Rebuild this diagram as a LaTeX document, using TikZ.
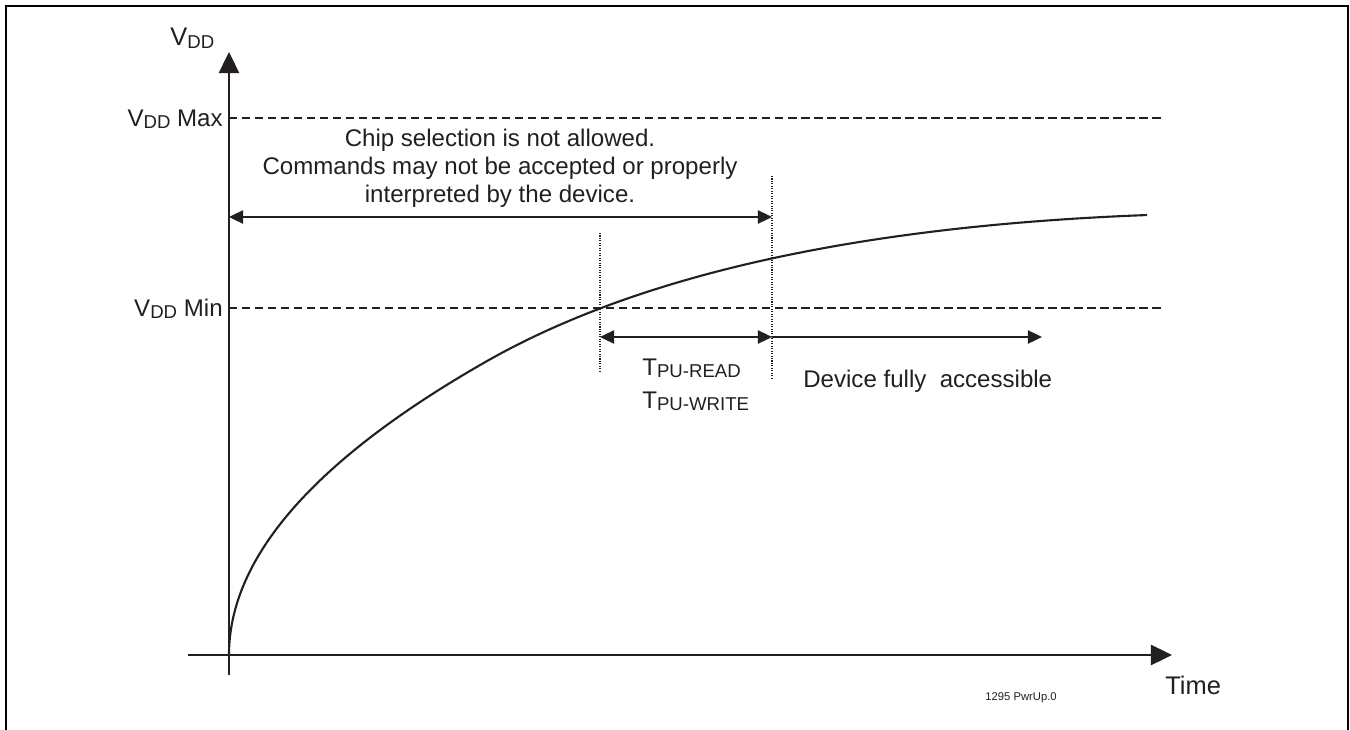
\documentclass[tikz,border=0pt]{standalone}
\usepackage{fontspec}
\setmainfont{Liberation Sans}
\usepackage{tikz}
\usetikzlibrary{arrows.meta, positioning}

\definecolor{ink}{HTML}{231F20}
\newcommand{\lowtxt}[1]{\raisebox{-1.6pt}{\fontsize{10.6}{12}\selectfont #1}}

\begin{document}
\begin{tikzpicture}[x=0.02cm, y=-0.02cm,
		axis/.style = {draw=ink, line width=1.1pt, -{Triangle[length=12pt, width=11.5pt]}},
		span/.style = {draw=ink, line width=1.1pt, {Triangle[length=8pt, width=7.5pt]}-{Triangle[length=8pt, width=7.5pt]}},
		onespan/.style = {draw=ink, line width=1.1pt, -{Triangle[length=8pt, width=7.5pt]}},
		limit/.style = {draw=ink, line width=0.9pt, dash pattern=on 4.8pt off 2.6pt},
		guide/.style = {draw=ink, line width=0.6pt, dash pattern=on 0.6pt off 0.8pt},
		lbl/.style = {inner sep=0pt, text=ink, font=\fontsize{13.7}{15.9}\selectfont}]
		\useasboundingbox (0, 0) rectangle (1350, 730);
		% frame
		\draw[line width=1.4pt] (6, 730) -- (6, 6) -- (1348, 6) -- (1348, 730);
		% axes
		\coordinate (ybot) at (229, 675);
		\coordinate (ytip) at (229, 52);
		\coordinate (xleft) at (188, 655);
		\coordinate (xtip) at (1172, 655);
		\draw[axis] (ybot) -- (ytip);
		\draw[axis] (xleft) -- (xtip);
		\node[lbl, font=\fontsize{14.5}{17}\selectfont, anchor=base west] (vdd) at (170, 46) {V\lowtxt{DD}};
		\node[lbl, font=\fontsize{14.5}{17}\selectfont, anchor=base west] (time) at (1165, 694) {Time};
		\node[lbl, font=\fontsize{6.4}{8}\selectfont, anchor=base east] (code) at (1057, 700) {1295 PwrUp.0};
		% supply limits
		\node[lbl, anchor=base east] (vmax) at (223, 126) {V\lowtxt{DD} Max};
		\node[lbl, anchor=base east] (vmin) at (223, 316) {V\lowtxt{DD} Min};
		\coordinate (maxL) at (229, 118);
		\coordinate (maxR) at (1162, 118);
		\coordinate (minL) at (229, 308);
		\coordinate (minR) at (1162, 308);
		\draw[limit] (maxL) -- (maxR);
		\draw[limit] (minL) -- (minR);
		% ramp
		\draw[ink, line width=1.2pt] plot[domain=0:30.3, samples=150, variable=\t]
			({229+\t*\t}, {655-18.3*\t+(\t>16)*0.56*(\t-16)*(\t-16)});
		% timing marks
		\coordinate (g1top) at (600, 233);
		\coordinate (g1bot) at (600, 373);
		\coordinate (g2top) at (772, 176);
		\coordinate (g2bot) at (772, 379);
		\draw[guide] (g1top) -- (g1bot);
		\draw[guide] (g2top) -- (g2bot);
		\coordinate (noL) at (229, 217);
		\coordinate (noR) at (772, 217);
		\coordinate (puL) at (600, 337);
		\coordinate (puR) at (772, 337);
		\coordinate (okR) at (1042, 337);
		\draw[span] (noL) -- (noR);
		\draw[span] (puL) -- (puR);
		\draw[onespan] (puR) -- (okR);
		\node[lbl, align=center] (warn) at (500, 168) {Chip selection is not allowed.\\Commands may not be accepted or properly\\interpreted by the device.};
		\node[lbl, anchor=base west] (tread) at (642, 375) {T\lowtxt{PU-READ}};
		\node[lbl, anchor=base west] (twrite) at (642, 408) {T\lowtxt{PU-WRITE}};
		\node[lbl, anchor=base west] (okay) at (803, 387) {Device fully\ \ accessible};
\end{tikzpicture}
\end{document}
